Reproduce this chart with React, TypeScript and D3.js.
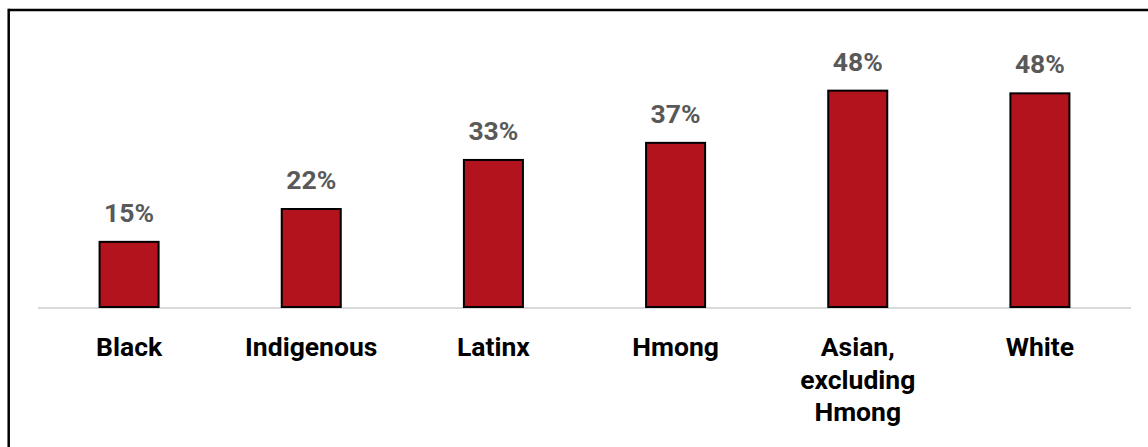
import React from "react";
import * as d3 from "d3";

const categories: string[][] = [
  ["Black"],
  ["Indigenous"],
  ["Latinx"],
  ["Hmong"],
  ["Asian,", "excluding", "Hmong"],
  ["White"],
];
const values: number[] = [14.7, 22.0, 32.9, 36.7, 48.3, 47.7];

const W = 1148;
const H = 447;
const FONT = "Roboto, 'Noto Sans', sans-serif";

export default function App() {
  const keys = categories.map((c) => c.join(" "));
  const x = d3
    .scaleBand<string>()
    .domain(keys)
    .range([38, 1131])
    .paddingInner(0.676)
    .paddingOuter(0.338);
  const y = d3.scaleLinear().domain([0, 60]).range([308, 38]);

  return (
    <svg
      width={W}
      height={H}
      style={{ position: "absolute", left: 0, top: 0, background: "#fff" }}
    >
      <rect x={0} y={0} width={W} height={H} fill="#fff" />
      {/* frame */}
      <line x1={8.7} x2={W} y1={10} y2={10} stroke="#000" strokeWidth={2.5} />
      <line x1={8.7} x2={8.7} y1={8.8} y2={H} stroke="#000" strokeWidth={2.5} />
      {/* axis */}
      <line x1={38} x2={1131} y1={308} y2={308} stroke="#d9d9d9" strokeWidth={2} />
      {keys.map((k, i) => {
        const bx = x(k)!;
        const bw = x.bandwidth();
        const top = y(values[i]);
        const cx = bx + bw / 2;
        return (
          <g key={k}>
            <rect
              x={bx}
              y={top}
              width={bw}
              height={y(0) - top - 1}
              fill="#b3131d"
              stroke="#000"
              strokeWidth={2}
            />
            <text
              x={cx}
              y={top - 20}
              textAnchor="middle"
              fontFamily={FONT}
              fontWeight="bold"
              fontSize={26.5}
              fill="#595959"
            >
              {Math.round(values[i]) + "%"}
            </text>
            <text
              x={cx}
              y={356}
              textAnchor="middle"
              fontFamily={FONT}
              fontWeight="bold"
              fontSize={26.5}
              fill="#000"
            >
              {categories[i].map((line, j) => (
                <tspan key={j} x={cx} dy={j === 0 ? 0 : 32.5}>
                  {line}
                </tspan>
              ))}
            </text>
          </g>
        );
      })}
    </svg>
  );
}
